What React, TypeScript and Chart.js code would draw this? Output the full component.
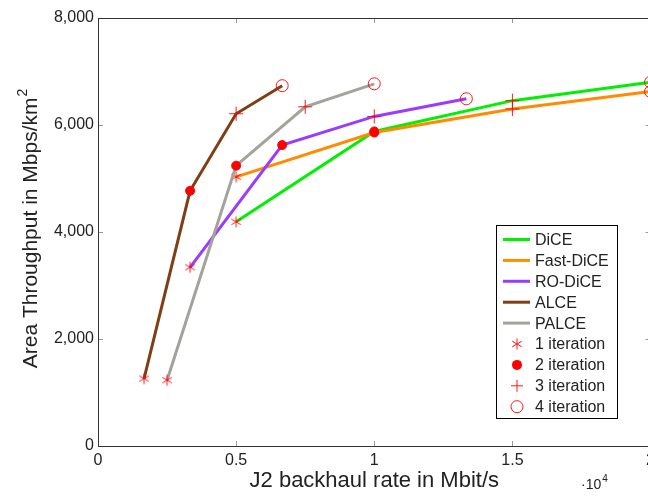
import React, { useEffect, useRef } from 'react';
import { Chart, registerables } from 'chart.js';
Chart.register(...registerables);

const seriesNames = ['DiCE', 'Fast-DiCE', 'RO-DiCE', 'ALCE', 'PALCE'];
const seriesColors = ['#00f000', '#ff8c00', '#9a3cff', '#7f3f14', '#a3a39b'];

const diceX = [5000, 10000, 15000, 20000];
const diceY = [4190, 5880, 6455, 6800];
const fastDiceX = [5000, 10000, 15000, 20000];
const fastDiceY = [5030, 5860, 6300, 6625];
const roDiceX = [3333, 6667, 10000, 13333];
const roDiceY = [3340, 5625, 6160, 6490];
const alceX = [1667, 3333, 5000, 6667];
const alceY = [1260, 4770, 6210, 6735];
const palceX = [2500, 5000, 7500, 10000];
const palceY = [1230, 5240, 6340, 6770];

const iterationLabels = ['1 iteration', '2 iteration', '3 iteration', '4 iteration'];
const xTickValues = [0, 5000, 10000, 15000, 20000];
const yTickValues = [0, 2000, 4000, 6000, 8000];

const xTitle = 'J2 backhaul rate in Mbit/s';
const yTitle = 'Area Throughput in Mbps/km';
const FONT = '"Liberation Sans", Arial, sans-serif';
const MARK = 'rgba(255,0,0,0.9)';

function makeAsterisk(r: number, color: string) {
  const size = Math.ceil(2 * r + 3);
  const c = document.createElement('canvas');
  c.width = size;
  c.height = size;
  const ctx = c.getContext('2d')!;
  ctx.strokeStyle = color;
  ctx.lineWidth = 1;
  const cx = size / 2, cy = size / 2;
  for (const a of [90, 30, 150]) {
    const rad = (a * Math.PI) / 180;
    ctx.beginPath();
    ctx.moveTo(cx - r * Math.cos(rad), cy - r * Math.sin(rad));
    ctx.lineTo(cx + r * Math.cos(rad), cy + r * Math.sin(rad));
    ctx.stroke();
  }
  return c;
}

export default function App() {
  const ref = useRef<HTMLCanvasElement | null>(null);
  useEffect(() => {
    document.body.style.margin = '0';
    const canvas = ref.current!;
    const asterisk = makeAsterisk(5.5, MARK);
    const styles: any[] = [asterisk, 'circle', 'cross', 'circle'];
    const radii = [5.5, 4.5, 7, 6];
    const fills = [MARK, 'rgb(255,0,0)', MARK, 'rgba(0,0,0,0)'];
    const xs = [diceX, fastDiceX, roDiceX, alceX, palceX];
    const ys = [diceY, fastDiceY, roDiceY, alceY, palceY];

    const datasets = seriesNames.map((name, i) => ({
      label: name,
      data: xs[i].map((x, j) => ({ x, y: ys[i][j] })),
      borderColor: seriesColors[i],
      backgroundColor: seriesColors[i],
      borderWidth: 3,
      tension: 0,
      fill: false,
      clip: false as any,
      order: seriesNames.length - i,
      pointStyle: styles,
      pointRadius: radii,
      pointBackgroundColor: fills,
      pointBorderColor: [MARK, 'rgb(255,0,0)', MARK, MARK],
      pointBorderWidth: 1,
    }));

    const framePlugin = {
      id: 'frame',
      beforeDatasetsDraw(chart: any) {
        const { ctx, chartArea: a, scales } = chart;
        ctx.save();
        ctx.strokeStyle = '#999';
        ctx.lineWidth = 1;
        for (const v of xTickValues) {
          const px = Math.round(scales.x.getPixelForValue(v)) + 0.5;
          ctx.beginPath();
          ctx.moveTo(px, a.bottom); ctx.lineTo(px, a.bottom - 5);
          ctx.moveTo(px, a.top); ctx.lineTo(px, a.top + 5);
          ctx.stroke();
        }
        for (const v of yTickValues) {
          const py = Math.round(scales.y.getPixelForValue(v)) + 0.5;
          ctx.beginPath();
          ctx.moveTo(a.left, py); ctx.lineTo(a.left + 5, py);
          ctx.moveTo(a.right, py); ctx.lineTo(a.right - 5, py);
          ctx.stroke();
        }
        ctx.strokeStyle = '#333';
        ctx.strokeRect(Math.round(a.left) + 0.5, Math.round(a.top) + 0.5, Math.round(a.right - a.left), Math.round(a.bottom - a.top));
        ctx.restore();
      },
      afterDraw(chart: any) {
        const { ctx, chartArea: a } = chart;
        ctx.save();
        ctx.fillStyle = '#222';
        // x title
        ctx.font = `22px ${FONT}`;
        ctx.textAlign = 'center';
        ctx.textBaseline = 'middle';
        ctx.fillText(xTitle, (a.left + a.right) / 2, 481);
        // 10^4
        ctx.textAlign = 'left';
        ctx.font = `14px ${FONT}`;
        ctx.fillText('·10', 581, 485);
        const w10 = ctx.measureText('·10').width;
        ctx.font = `10px ${FONT}`;
        ctx.fillText('4', 581 + w10 + 1, 479);
        // y title
        ctx.save();
        ctx.translate(31, (a.top + a.bottom) / 2 - 3);
        ctx.rotate(-Math.PI / 2);
        ctx.font = `21px ${FONT}`;
        const wMain = ctx.measureText(yTitle).width;
        ctx.font = `14px ${FONT}`;
        const wSup = ctx.measureText('2').width;
        const start = -(wMain + wSup) / 2;
        ctx.textAlign = 'left';
        ctx.font = `21px ${FONT}`;
        ctx.fillText(yTitle, start, 0);
        ctx.font = `14px ${FONT}`;
        ctx.fillText('2', start + wMain + 1, -8);
        ctx.restore();

        // legend
        const bx = 496.5, by = 225.5, bw = 121, bh = 193;
        ctx.fillStyle = '#fff';
        ctx.fillRect(bx, by, bw, bh);
        ctx.strokeStyle = '#000';
        ctx.lineWidth = 1;
        ctx.strokeRect(bx, by, bw, bh);
        const rowY = (k: number) => 239.5 + k * 20.9;
        ctx.font = `16px ${FONT}`;
        ctx.textBaseline = 'middle';
        ctx.textAlign = 'left';
        seriesNames.forEach((name, i) => {
          const y = rowY(i);
          ctx.strokeStyle = seriesColors[i];
          ctx.lineWidth = 3;
          ctx.beginPath();
          ctx.moveTo(503, y); ctx.lineTo(530, y);
          ctx.stroke();
          ctx.fillStyle = '#222';
          ctx.fillText(name, 535, y + 1);
        });
        iterationLabels.forEach((lab, k) => {
          const y = rowY(5 + k);
          const cx = 517;
          ctx.strokeStyle = MARK;
          ctx.lineWidth = 1;
          if (k === 0) {
            ctx.drawImage(asterisk, cx - asterisk.width / 2, y - asterisk.height / 2);
          } else if (k === 1) {
            ctx.fillStyle = 'rgb(255,0,0)';
            ctx.beginPath(); ctx.arc(cx, y, 5, 0, Math.PI * 2); ctx.fill();
          } else if (k === 2) {
            ctx.beginPath();
            ctx.moveTo(cx - 6, y); ctx.lineTo(cx + 6, y);
            ctx.moveTo(cx, y - 6); ctx.lineTo(cx, y + 6);
            ctx.stroke();
          } else {
            ctx.beginPath(); ctx.arc(cx, y, 6, 0, Math.PI * 2); ctx.stroke();
          }
          ctx.fillStyle = '#222';
          ctx.fillText(lab, 535, y + 1);
        });
        ctx.restore();
      },
    };

    const chart = new Chart(canvas, {
      type: 'line',
      data: { datasets: datasets as any },
      options: {
        animation: false,
        responsive: false,
        devicePixelRatio: 1,
        layout: { padding: { top: 18, right: 9, left: 0, bottom: 0 } },
        plugins: { legend: { display: false }, tooltip: { enabled: false } },
        scales: {
          x: {
            type: 'linear',
            min: 0,
            max: 20000,
            afterFit: (s: any) => { s.height = 51; },
            afterBuildTicks: (s: any) => { s.ticks = xTickValues.map((v) => ({ value: v })); },
            ticks: {
              callback: (v: any) => String(Number(v) / 10000),
              font: { family: FONT, size: 16 },
              color: '#222',
              padding: 5,
              maxRotation: 0,
            },
            grid: { display: false, drawTicks: false },
            border: { display: false },
          },
          y: {
            type: 'linear',
            min: 0,
            max: 8000,
            afterFit: (s: any) => { s.width = 98; },
            afterBuildTicks: (s: any) => { s.ticks = yTickValues.map((v) => ({ value: v })); },
            ticks: {
              callback: (v: any) => Number(v).toLocaleString('en-US'),
              font: { family: FONT, size: 16 },
              color: '#222',
              padding: 4,
            },
            grid: { display: false, drawTicks: false },
            border: { display: false },
          },
        },
      },
      plugins: [framePlugin],
    });
    return () => chart.destroy();
  }, []);

  return (
    <div style={{ width: 648, height: 497, overflow: 'hidden', position: 'relative', background: '#fff' }}>
      <canvas ref={ref} width={660} height={497} style={{ display: 'block', width: 660, height: 497 }} />
    </div>
  );
}
